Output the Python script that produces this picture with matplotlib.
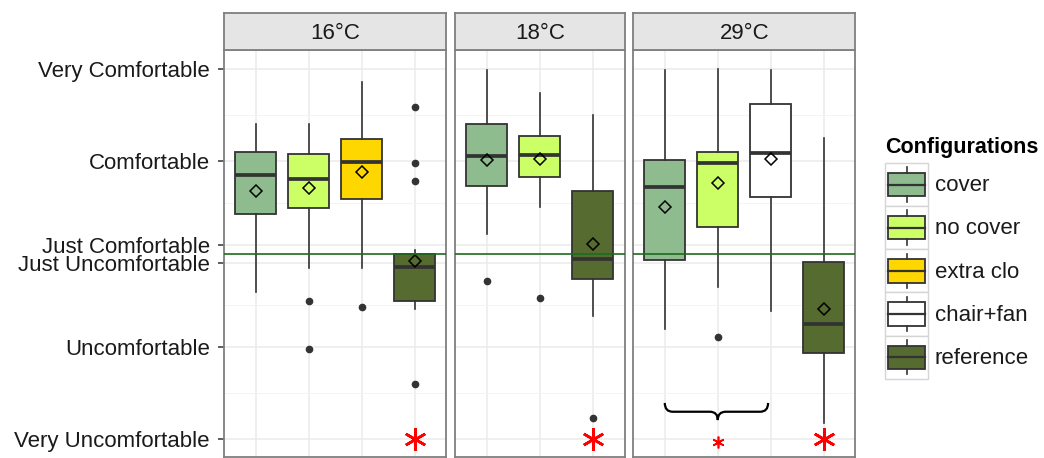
import matplotlib
matplotlib.use("Agg")
import matplotlib.pyplot as plt
from matplotlib.patches import Rectangle, Patch, PathPatch
from matplotlib.lines import Line2D
from matplotlib.path import Path
from matplotlib.legend_handler import HandlerBase

plt.rcParams['font.family'] = ['Liberation Sans', 'DejaVu Sans']

# comfort scale
comfort_labels = ["Very Uncomfortable", "Uncomfortable", "Just Uncomfortable",
                  "Just Comfortable", "Comfortable", "Very Comfortable"]
comfort_values = [-1.0, 0.0, 0.9, 1.1, 2.0, 3.0]
neutral_line = 1.0

configs = ["cover", "no cover", "extra clo", "chair+fan", "reference"]
config_colors = ["#8FBC8F", "#CCFF66", "#FFD700", "#FFFFFF", "#556B2F"]

temps = ["16°C", "18°C", "29°C"]

# 16°C
groups_16 = ["cover", "no cover", "extra clo", "reference"]
whislo_16 = [0.59, 0.845, 0.845, 0.405]
q1_16 = [1.436, 1.494, 1.595, 0.495]
med_16 = [1.857, 1.81, 1.99, 0.863]
q3_16 = [2.10, 2.078, 2.24, 1.0]
whishi_16 = [2.405, 2.405, 2.863, 1.043]
mean_16 = [1.684, 1.71, 1.89, 0.928]
fliers_16 = [[], [0.489, -0.03], [0.424], [2.59, 1.98, 1.79, -0.41]]

# 18°C
groups_18 = ["cover", "no cover", "reference"]
whislo_18 = [1.216, 1.51, 0.33]
q1_18 = [1.74, 1.836, 0.733]
med_18 = [2.056, 2.074, 0.943]
q3_18 = [2.40, 2.28, 1.68]
whishi_18 = [2.99, 2.744, 2.503]
mean_18 = [2.02, 2.024, 1.108]
fliers_18 = [[0.705], [0.524], [-0.776]]

# 29°C
groups_29 = ["cover", "no cover", "chair+fan", "reference"]
whislo_29 = [0.186, 0.647, 0.387, -0.83]
q1_29 = [0.935, 1.295, 1.613, -0.067]
med_29 = [1.728, 1.987, 2.088, 0.243]
q3_29 = [2.016, 2.10, 2.618, 0.917]
whishi_29 = [2.99, 3.0, 2.99, 2.25]
mean_29 = [1.505, 1.764, 2.027, 0.405]
fliers_29 = [[], [0.106], [], []]

# significance marks
sig_groups = [["reference"], ["reference"], ["reference"]]
sig_level = -1.0
brace_groups = ["cover", "chair+fan"]   # 29°C
brace_star = "no cover"
brace_top, brace_bar, brace_tip = -0.61, -0.705, -0.795
small_star_level = -1.03

facets = [
    (groups_16, whislo_16, q1_16, med_16, q3_16, whishi_16, mean_16, fliers_16),
    (groups_18, whislo_18, q1_18, med_18, q3_18, whishi_18, mean_18, fliers_18),
    (groups_29, whislo_29, q1_29, med_29, q3_29, whishi_29, mean_29, fliers_29),
]

W, H = 1044, 458
fig = plt.figure(figsize=(W / 100, H / 100), dpi=100)

left, right = 224 / W, 855.5 / W
gap = 8.5 / W
bottom, top = 1.3 / H, (H - 50) / H
strip_h = 37.5 / H
ncat = [len(f[0]) + 0.2 for f in facets]
unit = (right - left - 2 * gap) / sum(ncat)

edge = "#333333"
border = "#7F7F7F"
x = left
axes = []
for i, (groups, wlo, q1, med, q3, whi, mn, fl) in enumerate(facets):
    w = ncat[i] * unit
    ax = fig.add_axes([x, bottom, w, top - bottom])
    axes.append(ax)
    pos = list(range(1, len(groups) + 1))
    stats = []
    for j in range(len(groups)):
        stats.append(dict(med=med[j], q1=q1[j], q3=q3[j], whislo=wlo[j],
                          whishi=whi[j], mean=mn[j], fliers=fl[j]))
    bp = ax.bxp(stats, positions=pos, widths=0.77, patch_artist=True,
                showmeans=True, showcaps=False,
                boxprops=dict(edgecolor=edge, linewidth=1.3),
                medianprops=dict(color=edge, linewidth=2.7, solid_capstyle='butt'),
                whiskerprops=dict(color=edge, linewidth=1.2),
                meanprops=dict(marker='D', markerfacecolor='none',
                               markeredgecolor='black', markersize=6.5, markeredgewidth=1.1),
                flierprops=dict(marker='o', markerfacecolor=edge, markeredgecolor=edge,
                                markersize=4.5))
    for patch, g in zip(bp['boxes'], groups):
        patch.set_facecolor(config_colors[configs.index(g)])
    for k in ('boxes', 'medians', 'whiskers', 'means', 'fliers'):
        for a in bp[k]:
            a.set_zorder(3)

    ax.axhline(neutral_line, color='#1E6B1E', lw=1.2, zorder=4)

    # significance asterisks
    for g in sig_groups[i]:
        ax.plot(groups.index(g) + 1, sig_level, marker=(6, 2, 0), color='red',
                markersize=16, markeredgewidth=1.9, zorder=5, clip_on=False)

    ax.set_xlim(0.4, len(groups) + 0.6)
    ax.set_ylim(-1.191, 3.205)
    ax.set_xticks(pos)
    ax.set_yticks(comfort_values)
    mids = [(a + b) / 2 for a, b in zip(comfort_values[:-1], comfort_values[1:])]
    ax.set_yticks(mids, minor=True)
    ax.grid(True, which='major', color='#EBEBEB', lw=1.1, zorder=0)
    ax.grid(True, which='minor', axis='y', color='#F4F4F4', lw=0.7, zorder=0)
    ax.set_axisbelow(True)
    ax.tick_params(axis='x', bottom=False, labelbottom=False)
    ax.tick_params(axis='y', which='minor', left=False)
    if i == 0:
        ax.set_yticklabels(comfort_labels, fontsize=16, color='#1A1A1A')
        ax.tick_params(axis='y', length=4.3, width=1.1, color=edge, pad=5.8)
    else:
        ax.tick_params(axis='y', left=False, labelleft=False)
    for s in ax.spines.values():
        s.set_color(border)
        s.set_linewidth(1.3)

    # facet strip
    sax = fig.add_axes([x, top, w, strip_h])
    sax.set_facecolor('#E5E5E5')
    sax.set_xticks([])
    sax.set_yticks([])
    for s in sax.spines.values():
        s.set_color(border)
        s.set_linewidth(1.3)
    sax.text(0.5, 0.45, temps[i], ha='center', va='center', fontsize=16,
             color='#1A1A1A', transform=sax.transAxes)
    x += w + gap

# brace over the 29°C non-reference configurations
ax = axes[2]
g29 = facets[2][0]
x0 = g29.index(brace_groups[0]) + 1
x1 = g29.index(brace_groups[1]) + 1 - 0.05
xm = g29.index(brace_star) + 1
d = 0.15
verts = [(x0, brace_top), (x0, brace_bar), (x0 + d, brace_bar),
         (xm - d, brace_bar), (xm, brace_bar), (xm, brace_tip),
         (xm, brace_bar), (xm + d, brace_bar),
         (x1 - d, brace_bar), (x1, brace_bar), (x1, brace_top)]
codes = [Path.MOVETO, Path.CURVE3, Path.CURVE3,
         Path.LINETO, Path.CURVE3, Path.CURVE3,
         Path.CURVE3, Path.CURVE3,
         Path.LINETO, Path.CURVE3, Path.CURVE3]
ax.add_patch(PathPatch(Path(verts, codes), facecolor='none', edgecolor='black',
                       lw=1.6, zorder=5))
ax.plot(xm, small_star_level, marker=(6, 2, 0), color='red', markersize=8.5,
        markeredgewidth=1.2, zorder=5)


class BoxKey(HandlerBase):
    def create_artists(self, legend, orig, xd, yd, w, h, fontsize, trans):
        x0, y0 = -xd, -yd
        bg = Rectangle((x0, y0), w, h, facecolor='white', edgecolor='#D5D5D5',
                       lw=1.0, transform=trans)
        bx = Rectangle((x0 + 0.08 * w, y0 + 0.23 * h), 0.84 * w, 0.54 * h,
                       facecolor=orig.get_facecolor(), edgecolor=edge, lw=1.3,
                       transform=trans)
        md = Line2D([x0 + 0.08 * w, x0 + 0.92 * w], [y0 + 0.5 * h] * 2,
                    color=edge, lw=1.6, transform=trans)
        wl = Line2D([x0 + 0.5 * w] * 2, [y0 + 0.1 * h, y0 + 0.23 * h],
                    color=edge, lw=1.2, transform=trans)
        wh = Line2D([x0 + 0.5 * w] * 2, [y0 + 0.77 * h, y0 + 0.9 * h],
                    color=edge, lw=1.2, transform=trans)
        return [bg, bx, md, wl, wh]


handles = [Patch(facecolor=c) for c in config_colors]
leg = fig.legend(handles, configs, handler_map={Patch: BoxKey()},
                 loc='upper left', bbox_to_anchor=(885 / W, 1 - 137 / H),
                 frameon=False, fontsize=16, borderpad=0, borderaxespad=0,
                 handlelength=1.94, handleheight=2.61, labelspacing=0,
                 handletextpad=0.3, title="Configurations",
                 title_fontproperties={'weight': 'bold', 'size': 15.5},
                 alignment='left')
leg._legend_box.sep = 3.6
for t in leg.get_texts():
    t.set_color('#1A1A1A')

fig.savefig("out.png", dpi=100, facecolor='white')
